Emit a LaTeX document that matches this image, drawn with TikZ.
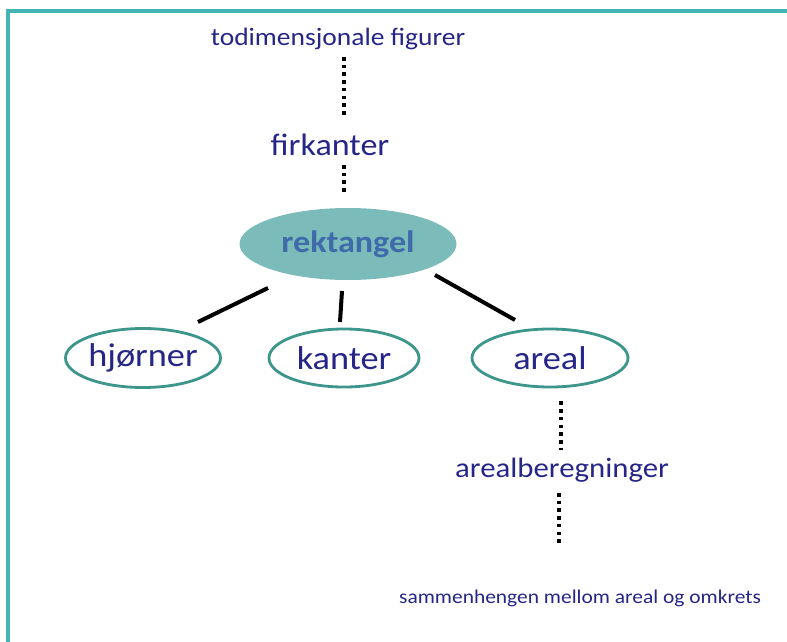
\documentclass[tikz,border=0pt]{standalone}
\usepackage{fontspec}
\setmainfont[FakeStretch=1.1]{Carlito}
\usetikzlibrary{shapes.geometric,calc}
\definecolor{frameteal}{RGB}{66,180,180}
\definecolor{ringteal}{RGB}{60,150,140}
\definecolor{fillteal}{RGB}{123,187,186}
\definecolor{navy}{RGB}{38,38,136}
\definecolor{steel}{RGB}{63,107,170}
\tikzset{
  fs/.style={font=\fontsize{#1}{#1}\selectfont},
  label text/.style={text=navy, inner sep=0pt, anchor=base},
  ring/.style={ellipse, draw=ringteal, line width=2.8pt, fill=white, inner sep=0pt, text=navy, fs=33},
  dotl/.style={line width=3.6pt, dash pattern=on 3.6pt off 4.1pt, black},
  conn/.style={line width=4pt, black},
}
\begin{document}
\begin{tikzpicture}[x=1pt,y=-1pt]
\useasboundingbox (0,0) rectangle (787,642);
\fill[white] (0,0) rectangle (787,642);
\draw[frameteal, line width=3.2pt] (8,642) -- (8,11) -- (787,11);

\node[label text, fs=25] (todim) at (338,46) {todimensjonale figurer};
\node[label text, fs=31] (firk) at (330,155) {firkanter};
\node[ellipse, fill=fillteal, inner sep=0pt, minimum width=217pt, minimum height=72pt,
      text=steel, font=\bfseries\fontsize{31}{31}\selectfont] (rekt) at (348,244) {rektangel};
\node[ring, minimum width=155pt, minimum height=59pt] (hj) at (143,358) {hjørner};
\node[ring, minimum width=150pt, minimum height=58pt] (kanter) at (344,358) {kanter};
\node[ring, minimum width=156pt, minimum height=58pt] (areal) at (550,358) {areal};
\node[label text, fs=28] (arealb) at (562,477) {arealberegninger};
\node[label text, fs=19.5] (samm) at (580,603) {sammenhengen mellom areal og omkrets};

\draw[dotl] ($(todim.base)+(6,11)$) -- ($(firk.base)+(14,-38)$);
\draw[dotl] ($(firk.base)+(14,10)$) -- ($(rekt.north)+(-4,-12)$);
\draw[dotl] ($(areal.south)+(11,13)$) -- ($(arealb.base)+(-1,-27)$);
\draw[dotl] ($(arealb.base)+(-3,16)$) -- ($(samm.base)+(-21,-60)$);

\draw[conn] ($(rekt.center)+(-80,44)$) -- ($(hj.center)+(55,-36)$);
\draw[conn] ($(rekt.center)+(-6,47)$) -- ($(kanter.center)+(-4,-36)$);
\draw[conn] ($(rekt.center)+(87,31)$) -- ($(areal.center)+(-35,-38)$);
\end{tikzpicture}
\end{document}
